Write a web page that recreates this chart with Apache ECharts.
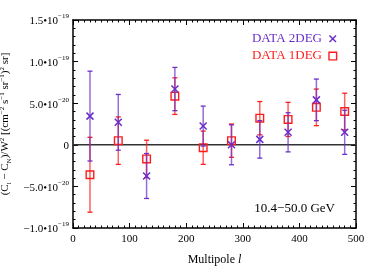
<!DOCTYPE html>
<html><head><meta charset="utf-8">
<script src="https://cdn.jsdelivr.net/npm/echarts@6/dist/echarts.min.js"></script>
<style>html,body{margin:0;padding:0;background:#fff}#c{width:374px;height:267px}</style>
</head><body><div id="c"></div>
<script>
// values in units of 1e-20 (cm^-2 s^-1 sr^-1)^2 sr
const multipoles = [30, 80, 130, 180, 230, 280, 330, 380, 430, 480];
const data2deg = [3.45, 2.7, -3.75, 6.7, 2.25, 0.0, 0.65, 1.5, 5.4, 1.5];
const err2deg  = [5.4, 3.35, 2.7, 2.6, 2.4, 2.4, 2.25, 2.35, 2.5, 2.65];
const data1deg = [-3.6, 0.5, -1.7, 5.85, -0.35, 0.5, 3.2, 3.05, 4.5, 4.0];
const err1deg  = [4.5, 2.85, 2.25, 2.2, 2.0, 2.0, 2.0, 2.05, 2.2, 2.2];
const yTickMantissa = ['−1.0•10', '−5.0•10', '0', '5.0•10', '1.0•10', '1.5•10'];
const yTickExponent = ['−19', '−20', '', '−20', '−19', '−19'];
const xTicks = [0, 100, 200, 300, 400, 500];

const PURPLE = '#6a2ec8', RED = '#ff1c1c';
const FONT = 'Liberation Serif';

function rows(vals, errs) { return multipoles.map((m, i) => [m, vals[i], errs[i]]); }

function errRender(color, marker) {
  return function (params, api) {
    const x = api.value(0), y = api.value(1), e = api.value(2);
    const p = api.coord([x, y]), t = api.coord([x, y + e]), b = api.coord([x, y - e]);
    const cap = 2.5;
    const ch = [
      {type: 'line', shape: {x1: p[0], y1: t[1], x2: p[0], y2: b[1]}, style: {stroke: color, lineWidth: 1.5, opacity: 0.7}},
      {type: 'line', shape: {x1: p[0] - cap, y1: t[1], x2: p[0] + cap, y2: t[1]}, style: {stroke: color, lineWidth: 1.3}},
      {type: 'line', shape: {x1: p[0] - cap, y1: b[1], x2: p[0] + cap, y2: b[1]}, style: {stroke: color, lineWidth: 1.3}}
    ];
    if (marker === 'square') {
      ch.push({type: 'rect', shape: {x: p[0] - 3.8, y: p[1] - 3.8, width: 7.6, height: 7.6}, style: {fill: 'none', stroke: color, lineWidth: 1.4}});
    } else {
      const s = 3.5;
      ch.push({type: 'line', shape: {x1: p[0] - s, y1: p[1] - s, x2: p[0] + s, y2: p[1] + s}, style: {stroke: color, lineWidth: 1.5}});
      ch.push({type: 'line', shape: {x1: p[0] - s, y1: p[1] + s, x2: p[0] + s, y2: p[1] - s}, style: {stroke: color, lineWidth: 1.5}});
    }
    return {type: 'group', children: ch};
  };
}

const axisCommon = {
  axisLine: {show: true, onZero: false, lineStyle: {color: '#000', width: 1.5}},
  axisTick: {show: true, inside: true, length: 5, lineStyle: {color: '#000', width: 1}},
  minorTick: {show: true, length: 2.5, lineStyle: {color: '#000', width: 1}},
  splitLine: {show: false}
};

const chart = echarts.init(document.getElementById('c'), null, {renderer: 'canvas'});
chart.setOption({
  animation: false,
  backgroundColor: '#fff',
  grid: {left: 73, right: 18, top: 20, bottom: 39, containLabel: false, outerBoundsMode: 'none'},
  xAxis: [
    Object.assign({}, axisCommon, {
      type: 'value', min: 0, max: 500, interval: 100, position: 'bottom',
      minorTick: Object.assign({}, axisCommon.minorTick, {splitNumber: 10}),
      axisLabel: {show: true, margin: 6, fontFamily: FONT, fontSize: 11, color: '#000',
        formatter: v => xTicks.indexOf(v) >= 0 ? String(v) : ''},
      name: '{n|Multipole }{i|l}', nameLocation: 'middle', nameGap: 26,
      nameTextStyle: {rich: {n: {fontFamily: FONT, fontSize: 12, color: '#000'}, i: {fontFamily: FONT, fontSize: 12, fontStyle: 'italic', color: '#000'}}}
    }),
    Object.assign({}, axisCommon, {
      type: 'value', min: 0, max: 500, interval: 100, position: 'top',
      minorTick: Object.assign({}, axisCommon.minorTick, {splitNumber: 10}),
      axisLabel: {show: false}
    })
  ],
  yAxis: [
    Object.assign({}, axisCommon, {
      type: 'value', min: -10, max: 15, interval: 5, position: 'left',
      minorTick: Object.assign({}, axisCommon.minorTick, {splitNumber: 5}),
      axisLabel: {show: true, margin: 4, fontFamily: FONT, fontSize: 11, color: '#000',
        formatter: function (v) {
          const i = Math.round((v + 10) / 5);
          if (!yTickExponent[i]) return '{m|' + yTickMantissa[i] + '}';
          return '{m|' + yTickMantissa[i] + '}{e|' + yTickExponent[i] + '}';
        },
        rich: {
          m: {fontFamily: FONT, fontSize: 11, color: '#000', lineHeight: 14, verticalAlign: 'bottom'},
          e: {fontFamily: FONT, fontSize: 7, color: '#000', lineHeight: 8, verticalAlign: 'top'}
        }
      },
      name: '(C{sub|l}{a| − }C{sub|N})/W{sup|2} [(cm{sup|−2} s{sup|−1} sr{sup|−1}){sup|2} sr]',
      nameLocation: 'middle', nameRotate: 90, nameGap: 58,
      nameTextStyle: {fontFamily: FONT, fontSize: 11, color: '#000', lineHeight: 14,
        rich: {
          a: {fontFamily: FONT, fontSize: 11, color: '#000', lineHeight: 14},
          sub: {fontFamily: FONT, fontSize: 7, color: '#000', lineHeight: 8, verticalAlign: 'bottom'},
          sup: {fontFamily: FONT, fontSize: 7, color: '#000', lineHeight: 8, verticalAlign: 'top'}
        }}
    }),
    Object.assign({}, axisCommon, {
      type: 'value', min: -10, max: 15, interval: 5, position: 'right',
      minorTick: Object.assign({}, axisCommon.minorTick, {splitNumber: 5}),
      axisLabel: {show: false}
    })
  ],
  series: [
    {type: 'line', data: [[0, 0], [500, 0]], symbol: 'none', lineStyle: {color: '#333', width: 1.5}, silent: true, z: 1},
    {type: 'custom', name: 'DATA 1DEG', data: rows(data1deg, err1deg), renderItem: errRender(RED, 'square'), z: 2},
    {type: 'custom', name: 'DATA 2DEG', data: rows(data2deg, err2deg), renderItem: errRender(PURPLE, 'cross'), z: 3}
  ],
  graphic: [
    {type: 'text', x: 322, y: 38.5, style: {text: 'DATA 2DEG', fill: PURPLE, font: '13px "Liberation Serif"', textAlign: 'right', textVerticalAlign: 'middle'}},
    {type: 'text', x: 322, y: 56, style: {text: 'DATA 1DEG', fill: RED, font: '13px "Liberation Serif"', textAlign: 'right', textVerticalAlign: 'middle'}},
    {type: 'line', shape: {x1: 329.5, y1: 35.5, x2: 336, y2: 42}, style: {stroke: PURPLE, lineWidth: 1.5}},
    {type: 'line', shape: {x1: 329.5, y1: 42, x2: 336, y2: 35.5}, style: {stroke: PURPLE, lineWidth: 1.5}},
    {type: 'rect', shape: {x: 329, y: 52.3, width: 7.6, height: 7.6}, style: {fill: 'none', stroke: RED, lineWidth: 1.4}},
    {type: 'text', x: 335, y: 208.5, style: {text: '10.4−50.0 GeV', fill: '#000', font: '13px "Liberation Serif"', textAlign: 'right', textVerticalAlign: 'middle'}}
  ]
});
</script></body></html>
